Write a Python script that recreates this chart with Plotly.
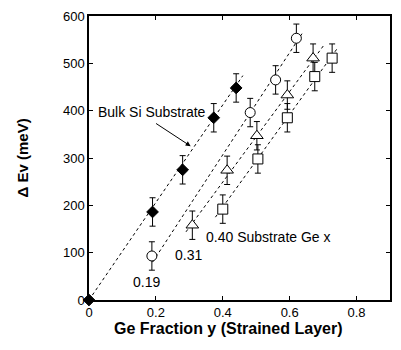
import plotly.graph_objects as go

# Data
bulk_x = [0.0, 0.19, 0.28, 0.373, 0.44]
bulk_y = [0, 186, 275, 385, 448]
bulk_err = [0, 30, 30, 30, 30]

c19_x = [0.188, 0.482, 0.558, 0.62]
c19_y = [93, 396, 465, 553]
c19_err = [30, 30, 30, 30]

t31_x = [0.309, 0.413, 0.502, 0.593, 0.67]
t31_y = [158, 274, 347, 433, 511]
t31_err = [30, 30, 30, 30, 30]

s40_x = [0.40, 0.505, 0.593, 0.675, 0.727]
s40_y = [192, 298, 385, 472, 511]
s40_err = [30, 30, 30, 30, 30]

# fit lines (endpoints)
fit_bulk_x = [0.0, 0.46]
fit_bulk_y = [0, 474]
fit_c19_x = [0.19, 0.64]
fit_c19_y = [80, 566]
fit_t31_x = [0.29, 0.704]
fit_t31_y = [144, 540]
fit_s40_x = [0.378, 0.744]
fit_s40_y = [175, 533]

FONT = "Liberation Sans, Arial, sans-serif"
fig = go.Figure()

for fx, fy in [(fit_bulk_x, fit_bulk_y), (fit_c19_x, fit_c19_y),
               (fit_t31_x, fit_t31_y), (fit_s40_x, fit_s40_y)]:
    fig.add_trace(go.Scatter(x=fx, y=fy, mode="lines",
                             line=dict(color="black", width=1, dash="3px,3px"),
                             showlegend=False, hoverinfo="skip"))

def pts(x, y, e, symbol, size, fill):
    fig.add_trace(go.Scatter(
        x=x, y=y, mode="markers", cliponaxis=False,
        marker=dict(symbol=symbol, size=size, color=fill,
                    line=dict(color="black", width=1)),
        error_y=dict(type="data", array=e, visible=True, color="black",
                     thickness=1, width=3),
        showlegend=False))

pts(bulk_x, bulk_y, bulk_err, "diamond", 9, "black")
pts(c19_x, c19_y, c19_err, "circle", 10, "white")
pts(t31_x, t31_y, t31_err, "triangle-up", 11, "white")
pts(s40_x, s40_y, s40_err, "square", 10, "white")

axis_common = dict(showgrid=False, zeroline=False, showline=True,
                   linecolor="black", linewidth=1.5, mirror="ticks",
                   ticks="inside", ticklen=4, tickcolor="black",
                   tickfont=dict(family=FONT, size=13, color="black"))

fig.update_xaxes(range=[0, 0.9], tickvals=[0, 0.2, 0.4, 0.6, 0.8],
                 ticktext=["0", "0.2", "0.4", "0.6", "0.8"], **axis_common)
fig.update_yaxes(range=[0, 600], tickvals=[0, 100, 200, 300, 400, 500, 600],
                 **axis_common)

fig.add_annotation(x=0.02, y=398, xref="x", yref="y", text="Bulk Si Substrate",
                   showarrow=False, xanchor="left",
                   font=dict(family=FONT, size=14, color="black"))
fig.add_annotation(x=0.304, y=325, ax=0.196, ay=375, xref="x", yref="y",
                   axref="x", ayref="y", text="", showarrow=True,
                   arrowhead=2, arrowsize=1, arrowwidth=1, arrowcolor="black")
fig.add_annotation(x=0.171, y=38, xref="x", yref="y", text="0.19", showarrow=False,
                   font=dict(family=FONT, size=14, color="black"))
fig.add_annotation(x=0.296, y=96, xref="x", yref="y", text="0.31", showarrow=False,
                   font=dict(family=FONT, size=14, color="black"))
fig.add_annotation(x=0.345, y=133, xref="x", yref="y", text="0.40 Substrate Ge x",
                   showarrow=False, xanchor="left",
                   font=dict(family=FONT, size=14, color="black"))
fig.add_annotation(x=(229.5 - 89) / 303, y=0, xref="paper", yref="paper", yshift=-18,
                   text="<b>Ge Fraction y (Strained Layer)</b>", showarrow=False,
                   xanchor="center", yanchor="top",
                   font=dict(family=FONT, size=16, color="black"))
fig.add_annotation(x=(22 - 89) / 303, y=0.5, xref="paper", yref="paper",
                   text="<b>Δ Ev (meV)</b>", showarrow=False, textangle=-90,
                   xanchor="center", yanchor="middle",
                   font=dict(family=FONT, size=15, color="black"))

fig.update_layout(width=401, height=350, margin=dict(l=89, r=9, t=15, b=50),
                  paper_bgcolor="white", plot_bgcolor="white",
                  font=dict(family=FONT, color="black"))

fig.write_html("out.html")
